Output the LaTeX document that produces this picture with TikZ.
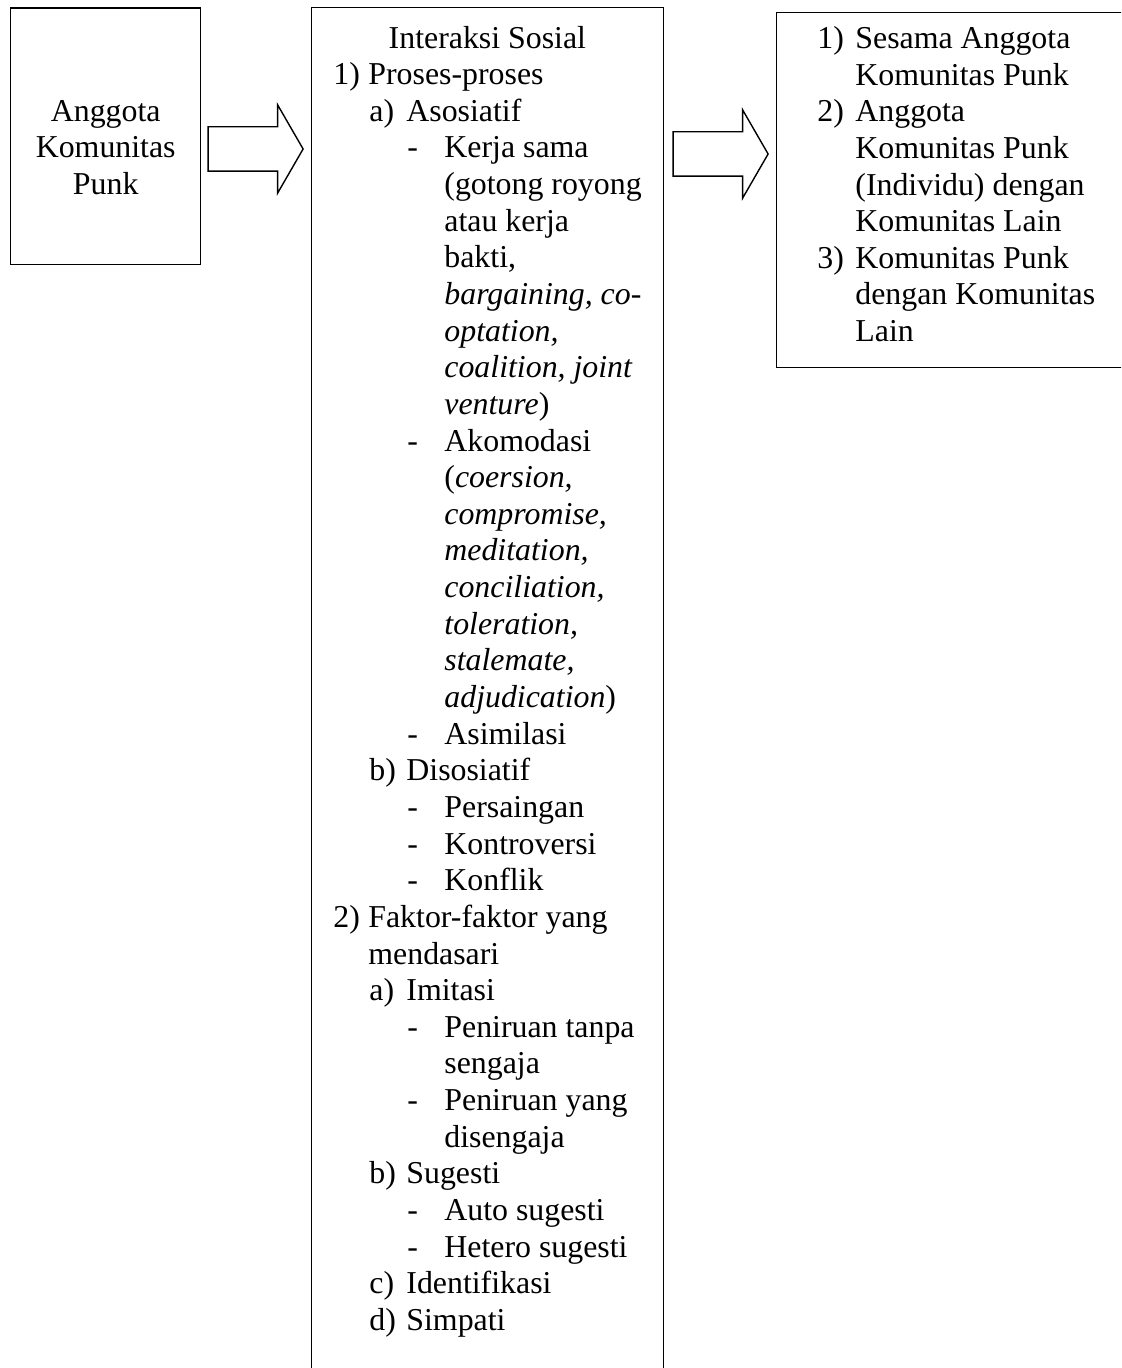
\documentclass[tikz,border=0pt]{standalone}
\usepackage{fontspec}
\setmainfont{Liberation Serif}
\usetikzlibrary{shapes.arrows,calc}

% indentation of the list levels
\newcommand{\lvone}[1]{\hspace*{11pt}\makebox[17.5pt][l]{#1}}
\newcommand{\contone}{\hspace*{28.5pt}}
\newcommand{\lvtwo}[1]{\hspace*{29pt}\makebox[18.5pt][l]{#1}}
\newcommand{\lvthree}{\hspace*{48pt}\makebox[18.5pt][l]{-}}
\newcommand{\contthree}{\hspace*{66.5pt}}
\newcommand{\lvright}[1]{\hspace*{20.5pt}\makebox[19pt][l]{#1}}
\newcommand{\contright}{\hspace*{39.5pt}}

\begin{document}
\begin{tikzpicture}[
    x=0.5pt, y=-0.5pt,
    box/.style={
        rectangle, draw=black, line width=0.7pt,
        inner sep=0pt, anchor=north west
    },
    txt/.style={
        inner sep=0pt, font=\fontsize{15.93pt}{18.32pt}\selectfont
    },
    blockarrow/.style={
        single arrow, draw=black, line width=0.7pt,
        inner xsep=0pt, inner ysep=10.75pt,
        single arrow head extend=11pt, single arrow tip angle=120,
        minimum height=47.5pt, anchor=tail
    }
]

% --- Frame ---
\useasboundingbox (0,0) rectangle (1121,1368);
\clip (0,0) rectangle (1121,1368);

% --- Boxes ---
\node[box, minimum width=95pt, minimum height=128.25pt] (anggota) at (10,7.5) {};
\node[box, minimum width=176pt, minimum height=690pt] (interaksi) at (311,7) {};
\node[box, minimum width=177pt, minimum height=177.5pt] (hasil) at (776,12) {};

% --- Texts (anchored on their last line) ---
\node[txt, align=center, anchor=base] (anggotaText)
    at ($(anggota.north)+(0,187.1)$) {
    Anggota\\
    Komunitas\\
    Punk
};

\node[txt, align=left, anchor=base west] (interaksiText)
    at ($(interaksi.north west)+(0,1323.4)$) {
    \makebox[176pt]{Interaksi Sosial}\\
    \lvone{1)}Proses-proses\\
    \lvtwo{a)}Asosiatif\\
    \lvthree Kerja sama\\
    \contthree(gotong royong\\
    \contthree atau kerja\\
    \contthree bakti,\\
    \contthree\textit{bargaining, co-}\\
    \contthree\textit{optation,}\\
    \contthree\textit{coalition, joint}\\
    \contthree\textit{venture})\\
    \lvthree Akomodasi\\
    \contthree(\textit{coersion,}\\
    \contthree\textit{compromise,}\\
    \contthree\textit{meditation,}\\
    \contthree\textit{conciliation,}\\
    \contthree\textit{toleration,}\\
    \contthree\textit{stalemate,}\\
    \contthree\textit{adjudication})\\
    \lvthree Asimilasi\\
    \lvtwo{b)}Disosiatif\\
    \lvthree Persaingan\\
    \lvthree Kontroversi\\
    \lvthree Konflik\\
    \lvone{2)}Faktor-faktor yang\\
    \contone mendasari\\
    \lvtwo{a)}Imitasi\\
    \lvthree Peniruan tanpa\\
    \contthree sengaja\\
    \lvthree Peniruan yang\\
    \contthree disengaja\\
    \lvtwo{b)}Sugesti\\
    \lvthree Auto sugesti\\
    \lvthree Hetero sugesti\\
    \lvtwo{c)}Identifikasi\\
    \lvtwo{d)}Simpati
};

\node[txt, align=left, anchor=base west] (hasilText)
    at ($(hasil.north west)+(0,329.6)$) {
    \lvright{1)}Sesama Anggota\\
    \contright Komunitas Punk\\
    \lvright{2)}Anggota\\
    \contright Komunitas Punk\\
    \contright (Individu) dengan\\
    \contright Komunitas Lain\\
    \lvright{3)}Komunitas Punk\\
    \contright dengan Komunitas\\
    \contright Lain
};

% --- Block arrows (box -> box) ---
\node[blockarrow] (arrowA) at ($(anggota.north east)+(6,141.5)$) {};
\node[blockarrow] (arrowB) at ($(interaksi.north east)+(8,147)$) {};

\end{tikzpicture}
\end{document}
